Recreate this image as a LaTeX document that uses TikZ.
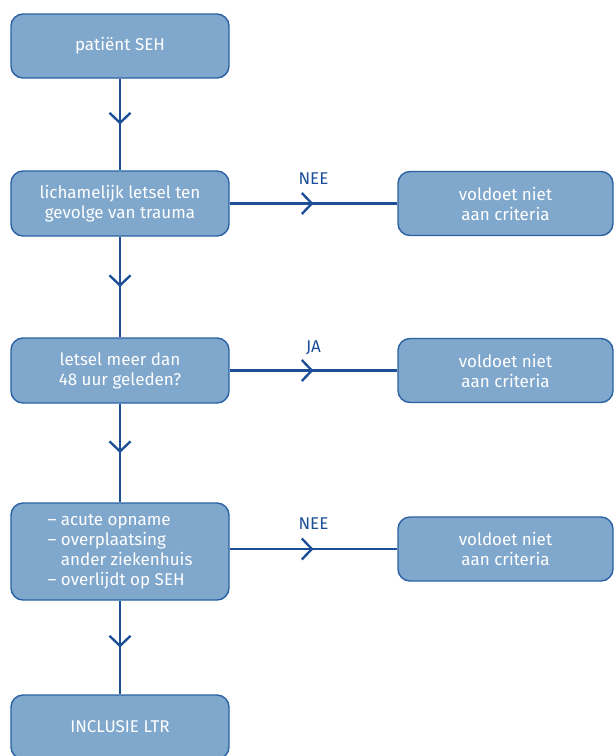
\documentclass[tikz,border=0pt]{standalone}
\usepackage{fontspec}
\setmainfont{Fira Sans}
\usetikzlibrary{arrows.meta,decorations.markings}
\definecolor{boxfill}{HTML}{80A7CC}
\definecolor{boxline}{HTML}{2B62A3}
\definecolor{conn}{HTML}{1D4F98}
\tikzset{
  flowbox/.style={draw=boxline, line width=1.4pt, fill=boxfill, rounded corners=12pt,
    text=white, font=\fontsize{17}{20}\selectfont, align=center, inner sep=0pt},
  leftbox/.style={flowbox, minimum width=218pt},
  rightbox/.style={flowbox, minimum width=215pt, minimum height=64pt},
  midarrow/.style={draw=conn, line width=2.4pt, postaction={decorate},
    decoration={markings, mark=at position 0.5 with {\arrow[conn, line width=2.4pt]{Straight Barb[length=10pt,width=21pt]}}}},
  branchlabel/.style={text=conn, font=\fontsize{17}{19}\selectfont}
}
\begin{document}
\begin{tikzpicture}[x=1pt,y=-1pt]
\useasboundingbox (0,0) rectangle (614,756);
\node[leftbox, minimum height=64pt] (b1) at (120,46) {patiënt SEH};
\node[leftbox, minimum height=65pt] (b2) at (120,203.5) {lichamelijk letsel ten\\gevolge van trauma};
\node[leftbox, minimum height=65pt] (b3) at (120,370.5) {letsel meer dan\\48 uur geleden?};
\node[leftbox, minimum height=97pt] (b4) at (120,551.5) {\begin{tabular}{@{}l@{}}– acute opname\\– overplaatsing\\\phantom{– }ander ziekenhuis\\– overlijdt op SEH\end{tabular}};
\node[leftbox, minimum height=64pt] (b5) at (120,727) {INCLUSIE LTR};
\node[rightbox] (r1) at (505.5,203.5) {voldoet niet\\aan criteria};
\node[rightbox] (r2) at (505.5,370.5) {voldoet niet\\aan criteria};
\node[rightbox] (r3) at (505.5,549) {voldoet niet\\aan criteria};
\draw[midarrow] (b1) -- (b2);
\draw[midarrow] (b2) -- (b3);
\draw[midarrow] (b3) -- (b4);
\draw[midarrow] (b4) -- (b5);
\draw[midarrow] (b2.east) -- (r1.west) node[midway, yshift=25pt, branchlabel] {NEE};
\draw[midarrow] (b3.east) -- (r2.west) node[midway, yshift=23pt, branchlabel] {JA};
\draw[midarrow] (b4.east |- r3.west) -- (r3.west) node[midway, yshift=25pt, branchlabel] {NEE};
\end{tikzpicture}
\end{document}
